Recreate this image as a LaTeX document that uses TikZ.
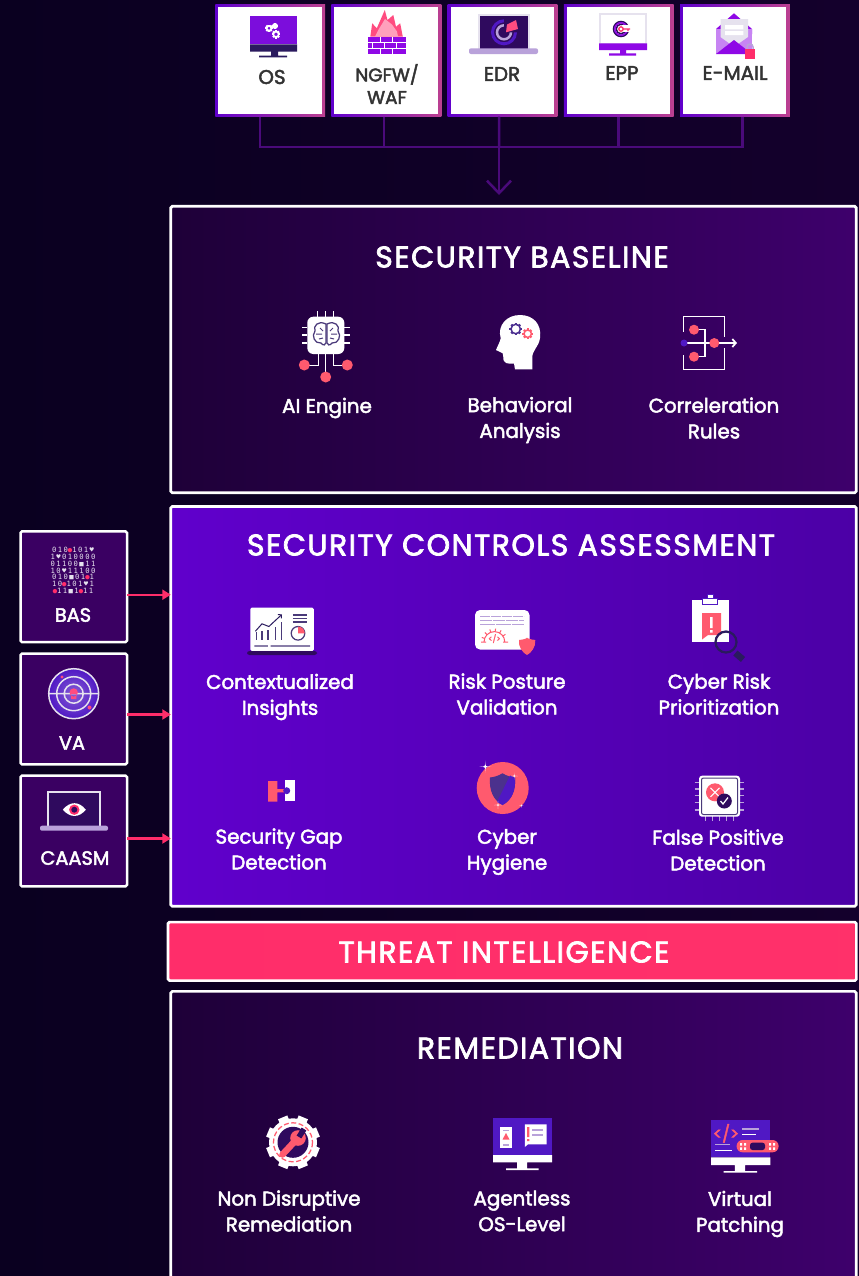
\documentclass[tikz,border=0pt]{standalone}
\usepackage{fontspec}
\setmainfont{Poppins}[FakeBold=2.4]
\newfontfamily\matfont{DejaVu Sans Mono}[LetterSpace=20]
\usetikzlibrary{arrows.meta, positioning, calc}

\definecolor{bgleft}{HTML}{0A0020}
\definecolor{bgright}{HTML}{14002C}
\definecolor{darkleft}{HTML}{1E0038}
\definecolor{darkright}{HTML}{3E006C}
\definecolor{violetleft}{HTML}{6000CC}
\definecolor{violetright}{HTML}{4C00A6}
\definecolor{coral}{HTML}{FF5A6E}
\definecolor{hotpink}{HTML}{FF2D6A}
\definecolor{busline}{HTML}{4A0A7A}
\definecolor{sidefill}{HTML}{3A0062}
\definecolor{ink}{HTML}{2A1A5E}
\definecolor{slate}{HTML}{4A3A7A}
\definecolor{lilac}{HTML}{B9A2DA}
\definecolor{pale}{HTML}{E6E2EE}
\definecolor{grape}{HTML}{8F08E6}
\definecolor{indigo}{HTML}{5018C4}
\definecolor{plum}{HTML}{2F0A5E}
\definecolor{rimpink}{HTML}{BC4090}

\newcommand{\cogwheel}[4]{
  \draw[#4, line width=0.03cm] (#1,#2) circle (#3);
  \foreach \a in {0,45,...,315} \draw[#4, line width=0.045cm] (#1,#2) ++(\a:#3) -- ++(\a:1.6);
}
\newcommand{\sparkle}[3]{
  \fill[white] (#1-#3,#2) .. controls (#1,#2) .. (#1,#2-#3) .. controls (#1,#2) .. (#1+#3,#2)
    .. controls (#1,#2) .. (#1,#2+#3) .. controls (#1,#2) .. cycle;
}
\newcommand{\skl}{\textcolor{hotpink}{●}}

\begin{document}
\begin{tikzpicture}[
    x=0.02cm, y=-0.02cm,
    topbox/.style={minimum width=2.196cm, minimum height=2.25cm, outer sep=0pt, left color=violetleft, right color=rimpink,
      path picture={\fill[white] ([shift={(0.06cm,0.05cm)}]path picture bounding box.south west) rectangle ([shift={(-0.07cm,-0.05cm)}]path picture bounding box.north east);}},
    toplabel/.style={text=black!80, align=center, font=\fontsize{11.3}{12.8}\selectfont},
    panel/.style={draw=white, line width=0.054cm, minimum width=13.71cm, outer sep=0pt, rounded corners=0.03cm},
    darkpanel/.style={panel, left color=darkleft, right color=darkright},
    sidebox/.style={draw=white, line width=0.05cm, fill=sidefill, rounded corners=0.03cm, minimum width=2.13cm, minimum height=2.216cm, outer sep=0pt},
    sidelabel/.style={text=white, font=\fontsize{11}{12}\selectfont},
    heading/.style={text=white, font=\addfontfeature{LetterSpace=5}\fontsize{17}{20}\selectfont},
    label/.style={text=white, align=center, font=\fontsize{11.3}{14.7}\selectfont},
    bus/.style={draw=busline, line width=0.05cm},
    feed/.style={draw=hotpink, line width=0.045cm, -{Triangle[length=0.17cm, width=0.2cm]}},
    thin/.style={line width=0.03cm},
    pinline/.style={white, line width=0.03cm}
]
\useasboundingbox (0,0) rectangle (859,1276);
\clip (0,0) rectangle (859,1276);
\fill[left color=bgleft, right color=bgright] (0,0) rectangle (859,1276);

% source boxes
\node[topbox] (osbox) at (270.2,60.5) {};
\node[topbox, right=0.128cm of osbox] (ngfwbox) {};
\node[topbox, right=0.128cm of ngfwbox] (edrbox) {};
\node[topbox, right=0.128cm of edrbox] (eppbox) {};
\node[topbox, right=0.128cm of eppbox] (mailbox) {};
\node[toplabel] (oslabel) at (272,77) {OS};
\node[toplabel, font=\fontsize{10.5}{12.8}\selectfont] (ngfwlabel) at (387,84) {NGFW/\\WAF};
\node[toplabel] (edrlabel) at (502,74) {EDR};
\node[toplabel] (epplabel) at (622,73) {EPP};
\node[toplabel] (maillabel) at (735,73) {E-MAIL};

% panels
\node[darkpanel, minimum height=5.73cm] (baselinepanel) at (513.5,349.5) {};
\node[panel, left color=violetleft, right color=violetright, minimum height=8cm] (controlspanel) at (513.5,706.35) {};
\node[draw=white, line width=0.054cm, rounded corners=0.03cm, left color=hotpink, right color=hotpink!92!coral, minimum width=13.77cm, minimum height=1.17cm, outer sep=0pt] (threatpanel) at (512.2,951.35) {};
\node[darkpanel, minimum height=6.4cm] (remedypanel) at (513.5,1151.35) {};

\node[heading] (baselinetitle) at (522,257) {SECURITY BASELINE};
\node[heading] (controlstitle) at (511,545) {SECURITY CONTROLS ASSESSMENT};
\node[heading] (threattitle) at (504,952) {THREAT INTELLIGENCE};
\node[heading] (remedytitle) at (520,1048) {REMEDIATION};

% side boxes
\node[sidebox] (basbox) at (73.8,586.7) {};
\node[sidebox] (vabox) at (73.8,709) {};
\node[sidebox] (caasmbox) at (73.8,831) {};
\node[sidelabel] (baslabel) at (73,615) {BAS};
\node[sidelabel] (valabel) at (72,743) {VA};
\node[sidelabel] (caasmlabel) at (75,858) {CAASM};

% connectors
\coordinate (busmid) at (499,147);
\coordinate (bustip) at (499,195);
\draw[bus] ([xshift=-0.2cm]osbox.south) |- (busmid);
\draw[bus] ([xshift=-0.05cm]ngfwbox.south) |- (busmid);
\draw[bus] ([xshift=-0.07cm]edrbox.south) -- (busmid);
\draw[bus] (eppbox.south) |- (busmid);
\draw[bus] ([xshift=0.15cm]mailbox.south) |- (busmid);
\draw[bus, -{Straight Barb[length=0.25cm, width=0.48cm]}] (busmid) -- (bustip);
\draw[feed] ([yshift=-0.16cm]basbox.east) -- ([yshift=-0.16cm]basbox.east -| controlspanel.west);
\draw[feed] ([yshift=-0.11cm]vabox.east) -- ([yshift=-0.11cm]vabox.east -| controlspanel.west);
\draw[feed] ([yshift=-0.15cm]caasmbox.east) -- ([yshift=-0.15cm]caasmbox.east -| controlspanel.west);

% labels
\node[label] (ailabel) at (327,408) {AI Engine};
\node[label] (behavlabel) at (520,420) {Behavioral\\Analysis};
\node[label] (corrlabel) at (714,418) {Correleration\\Rules};
\node[label] (ctxlabel) at (280,697) {Contextualized\\Insights};
\node[label] (risklabel) at (507,694) {Risk Posture\\Validation};
\node[label] (priolabel) at (719,694) {Cyber Risk\\Prioritization};
\node[label] (gaplabel) at (279,849) {Security Gap\\Detection};
\node[label] (hyglabel) at (507,852) {Cyber\\Hygiene};
\node[label] (falselabel) at (718,850) {False Positive\\Detection};
\node[label] (nondislabel) at (289,1211) {Non Disruptive\\Remediation};
\node[label] (agentlabel) at (522,1211) {Agentless\\OS-Level};
\node[label] (patchlabel) at (740,1214) {Virtual\\Patching};

% icon OS
\fill[grape!70!indigo] (250,16) rectangle (297,44.3);
\fill[ink] (250,44.3) rectangle (297,51.7) (271,51.7) rectangle (278,55.7) (259,55.7) rectangle (287,57.3);
\cogwheel{269}{28.3}{2.2}{white}
\cogwheel{276}{34.3}{2.6}{white}
\cogwheel{275}{26}{1.1}{white}

% icon NGFW
\fill[hotpink!85!white] (370.3,36.7) -- (372.2,23.3) -- (376.8,28.3) -- (384.8,10) -- (387.5,20) -- (393.3,15) -- (396,26.7) -- (400.2,23.3) -- (402.8,36.7) -- cycle;
\fill[hotpink!45!white] (375,36.7) -- (378,30.5) -- (385,19) -- (392,24.5) -- (397,31.5) -- (398,36.7) -- cycle;
\fill[grape] (368,36.7) rectangle (406,54);
\draw[white, line width=0.02cm] (368,42.5) -- (406,42.5) (368,48.2) -- (406,48.2);
\draw[white, line width=0.02cm] (380,36.7) -- (380,42.5) (392,36.7) -- (392,42.5) (372,42.5) -- (372,48.2) (384,42.5) -- (384,48.2) (396,42.5) -- (396,48.2) (380,48.2) -- (380,54) (392,48.2) -- (392,54);

% icon EDR
\fill[pale] (477.5,14) rectangle (530,49.3);
\fill[plum] (479.5,15.7) rectangle (528,49);
\fill[lilac, rounded corners=0.04cm] (469,48.3) rectangle (538,54);
\draw[indigo, line width=0.06cm] (504,32.3) circle (11.5);
\draw[lilac, line width=0.05cm] (504,32.3) circle (7);
\fill[plum] (504,32.3) -- (504,17) -- (521,19) -- (520,32.3) -- cycle;
\fill[hotpink!85!white] (506,32.3) -- (507,24.5) -- (516,20) -- (518,29) -- cycle;

% icon EPP
\fill[pale] (599,13.3) rectangle (647,44);
\fill[white] (601,15.3) rectangle (645,43.3);
\fill[grape] (599,43.3) rectangle (647,50) (620,50) rectangle (626,53.3) (609,53.3) rectangle (636,55.7);
\draw[plum, thin] (621,29) circle (7.5) (621,29) circle (4.8);
\draw[grape, thin] (621,29) circle (6.2);
\fill[white] (622,25) rectangle (632,32);
\draw[hotpink, line width=0.025cm] (621,29) circle (2.2) (623,29) -- (630,29) (628,29) -- (628,31);

% icon mail
\fill[grape] (734,13.3) -- (716,29) -- (716,34) -- (752,34) -- (752,29) -- cycle;
\fill[grape!50!white] (716,29) rectangle (752,54);
\fill[pale] (720.5,19) -- (748,19) -- (748,37) -- (734,46.7) -- (720.5,37) -- cycle;
\fill[white] (725,25) rectangle (743.4,29.3) (725,31) rectangle (743.4,35);
\fill[grape] (716,54) -- (734,40) -- (752,54) -- cycle;
\draw[lilac, line width=0.03cm] (747,49.3) -- (747,47) arc (180:360:3) -- (753,49.3);
\fill[hotpink] (745,49.3) rectangle (755,59);

% icon BAS
\foreach \row [count=\i] in {010\skl101♥, 1♥010000, 01100■11, 10♥11100, 010■01\skl1, 10\skl101♥1, \skl11■1\skl11}
  \node[text=pale, inner sep=0pt, font=\matfont\fontsize{4.1}{6}\selectfont] (matrow\i) at (73,{550+6.8*(\i-1)}) {\row};

% icon VA
\shade[inner color=indigo!70!white, outer color=indigo] (73.7,693.7) circle (25);
\draw[pale, thin] (73.7,693.7) circle (25) (73.7,693.7) circle (17) (73.7,693.7) circle (9.5) (48.7,693.7) -- (98.7,693.7);
\fill[hotpink!85!white] (73.7,692.5) circle (4.2) (71,694) rectangle (76.4,699) (62,677) circle (1.7) (89.5,707.5) circle (2);

% icon CAASM
\fill[plum] (48,791.7) rectangle (100,826);
\draw[pale, line width=0.035cm] (48,826) -- (48,791.7) -- (100,791.7) -- (100,826);
\fill[lilac, rounded corners=0.04cm] (40,825.7) rectangle (108,830.7);
\fill[white] (62.8,809.7) .. controls (70,801) and (79,801) .. (85.8,809.7) .. controls (79,818) and (70,818) .. cycle;
\fill[hotpink] (74.3,809.7) circle (5.2);
\fill[plum] (74.3,809.7) circle (3);

% icon AI engine
\fill[white, rounded corners=0.12cm] (307.3,316.7) rectangle (344.3,354);
\draw[pinline] (317.7,311.3) -- (317.7,316.7) (325.7,311.3) -- (325.7,316.7) (333.3,311.3) -- (333.3,316.7);
\draw[pinline] (302,327.3) -- (307.3,327.3) (302,335) -- (307.3,335) (302,343) -- (307.3,343);
\draw[pinline] (344.3,327.3) -- (350,327.3) (344.3,335) -- (350,335) (344.3,343) -- (350,343);
\draw[pinline] (318.3,354) -- (318.3,365.5) -- (304.3,365.5) (325.7,354) -- (325.7,377) (333.3,354) -- (333.3,365.5) -- (347.3,365.5);
\fill[coral] (304.3,365) circle (5.5) (325.7,377) circle (5.5) (347.3,365) circle (5.5);
\draw[slate, line width=0.025cm] (326,324) .. controls (318,320) and (313,326) .. (315,331) .. controls (311,336) and (315,344) .. (321,343) .. controls (323,346) and (326,345) .. (326,343) -- cycle;
\draw[slate, line width=0.025cm] (327,324) .. controls (335,320) and (340,326) .. (338,331) .. controls (342,336) and (338,344) .. (332,343) .. controls (330,346) and (327,345) .. (327,343) -- cycle;
\draw[slate, line width=0.02cm] (316,334) -- (322,334) (320,328) -- (323,331) (337,334) -- (331,334) (333,328) -- (330,331) (319,339) -- (323,338) (334,339) -- (330,338);

% icon behavioral
\fill[white] (515,369.3) -- (514,363.5) .. controls (508,364) and (503,364) .. (503.3,357) -- (502.7,353.3) -- (496,350) .. controls (498,345) and (500,342) .. (500.7,338.3)
  .. controls (497,325) and (507,315) .. (520,315) .. controls (533,315) and (542,324) .. (540,338) .. controls (539,347) and (532,350) .. (532.3,358) -- (532.3,369.3) -- cycle;
\cogwheel{515.7}{329}{4.7}{slate!70!indigo}
\cogwheel{527.7}{333.7}{3.7}{coral}

% icon correleration
\draw[white, line width=0.025cm] (683.3,331.7) -- (683.3,316.7) -- (724.3,316.7) -- (724.3,337.3);
\draw[white, line width=0.025cm] (683.3,355) -- (683.3,369.3) -- (724.3,369.3) -- (724.3,348.3);
\draw[white, line width=0.025cm] (694,329.7) -- (705,329.7) -- (705,356.7) -- (694,356.7);
\draw[white, line width=0.035cm, -{Straight Barb[length=0.07cm, width=0.16cm]}] (684,343) -- (737,343);
\fill[coral] (694,329.7) circle (5) (694,356.7) circle (5) (714.3,343) circle (5);
\fill[indigo] (684,343) circle (3.5);

% icon contextualized
\fill[white, rounded corners=0.03cm] (250.3,607.6) rectangle (313.8,651);
\fill[plum, rounded corners=0.05cm] (247,651) rectangle (317,655);
\draw[slate, line width=0.025cm] (256.4,639.7) -- (256.4,632) (262,639.7) -- (262,630.6) (268,639.7) -- (268,630) (275.3,639.7) -- (275.3,626.5) (281.7,639.7) -- (281.7,622);
\draw[ink, line width=0.02cm, -{Straight Barb[length=0.05cm, width=0.1cm]}] (255.4,631.2) -- (262,623.8) -- (268.9,626.5) -- (282,614.3);
\draw[slate, line width=0.025cm] (292.9,615) -- (307,615) (292.9,618.4) -- (307,618.4) (292.9,622) -- (307,622);
\draw[slate, line width=0.025cm] (298,633.3) circle (6.8) (254.3,646) -- (267.9,646) (270.6,646) -- (310,646);
\fill[coral] (298,633.3) -- (298,626.5) arc (-90:0:6.8) -- cycle;

% icon risk posture
\fill[white, rounded corners=0.1cm] (475,610) rectangle (529.5,649.5);
\draw[lilac, line width=0.035cm, dash pattern=on 0.2cm off 0.02cm] (480,616.4) -- (524,616.4);
\draw[lilac, line width=0.035cm, dash pattern=on 0.24cm off 0.02cm] (480,620.4) -- (524,620.4);
\draw[lilac, line width=0.035cm, dash pattern=on 0.3cm off 0.02cm] (480,624.4) -- (524,624.4);
\draw[coral, line width=0.02cm] (484,642) arc (180:360:10.4) (481,642) -- (486,642) (503,642) -- (508,642);
\foreach \a in {200,225,...,340} \draw[coral, line width=0.02cm] (494.4,642) ++(\a:10.4) -- ++(\a:3);
\node[text=coral, font=\fontsize{4.5}{5}\selectfont, inner sep=0pt] (codetext) at (494.4,638.5) {</>};
\fill[coral] (519,640) .. controls (524,639.5) and (527,638.5) .. (527,637.5) .. controls (527,638.5) and (531,639.5) .. (535.3,640) .. controls (536,647) and (531,653) .. (527,655) .. controls (523,653) and (518,647) .. cycle;

% icon prioritization
\fill[white] (692,599.5) rectangle (728.6,642);
\fill[white, draw=indigo, line width=0.015cm] (702.6,598) rectangle (717.5,604) (707,594) rectangle (713,598);
\fill[coral] (702,613) rectangle (721,635) (702,635) -- (708,635) -- (702,639.5) -- cycle;
\fill[white] (710,617) rectangle (712.6,628) (710,630) rectangle (712.6,632.6);
\draw[ink, line width=0.045cm] (726,642) circle (10.5);
\draw[ink, line width=0.13cm] (735.4,653) -- (743,659.5);

% icon gap
\fill[coral] (268,781) rectangle (277.3,801.7) (277,789) rectangle (284,792.4);
\fill[white] (285,780) rectangle (295,800.7);
\fill[indigo] (286.7,790.7) circle (3.5);

% icon hygiene
\fill[coral] (502.7,788) circle (26);
\fill[slate!75!indigo] (502.5,773.3) .. controls (507,776) and (511,777) .. (515,777.5) .. controls (516,790) and (512,800) .. (502.5,805) .. controls (493,800) and (489,790) .. (490,777.5) .. controls (494,777) and (498,776) .. cycle;
\fill[indigo] (510,775.5) .. controls (512,776.5) and (514,777) .. (515,777.5) .. controls (516,790) and (512,800) .. (502.5,805) -- (497,802) -- cycle;
\sparkle{485.3}{766.7}{6}
\sparkle{514.3}{776}{3.5}
\sparkle{498}{805}{4}
\sparkle{521.3}{805.7}{2}

% icon false positive
\foreach \p in {782.3,789,795.7,802.3,810} \draw[lilac, thin] (694.7,\p) -- (744.3,\p);
\foreach \p in {705.7,712.7,719.7,726.7,733.3} \draw[lilac, thin] (\p,812) -- (\p,821);
\fill[white, rounded corners=0.06cm] (699,775.7) rectangle (740,816.7);
\draw[slate, line width=0.02cm, rounded corners=0.04cm] (701.5,778) rectangle (737.5,814.5);
\fill[coral] (715,792.3) circle (9);
\draw[white, line width=0.02cm] (710.5,787.8) -- (719.5,796.8) (710.5,796.8) -- (719.5,787.8);
\fill[plum] (724.3,801) circle (7.5);
\draw[white, line width=0.025cm] (720.5,801) -- (723,804) -- (728,797.5);

% icon non disruptive
\foreach \a in {22.5,67.5,...,337.5} \draw[white, line width=0.2cm] (293,1142.3) ++(\a:20) -- ++(\a:7);
\fill[white] (293,1142.3) circle (24);
\draw[coral, line width=0.025cm, dash pattern=on 0.1cm off 0.05cm] (293,1142.3) circle (19.5);
\fill[plum] (293,1142.3) circle (15.5);
\draw[coral, line width=0.13cm, line cap=round] (282.5,1154.5) -- (296,1140);
\fill[coral] (298,1138) circle (7.8);
\draw[plum, line width=0.11cm] (299,1137) -- (304,1129);

% icon agentless
\fill[indigo] (493,1118.3) rectangle (552,1155);
\fill[white] (493,1155) rectangle (552,1162.3) (517,1162.3) rectangle (527,1168.3) (506,1168.3) rectangle (538.6,1170);
\fill[white] (500.3,1127.3) rectangle (511.7,1148.3);
\fill[coral] (506,1133) -- (509.5,1139.5) -- (502.5,1139.5) -- cycle;
\draw[lilac, thin] (503,1130.5) -- (509,1130.5) (503,1145) -- (509,1145);
\fill[white] (524.8,1124.3) rectangle (546.5,1144.3) (524.8,1144.3) -- (528,1144.3) -- (524.8,1147) -- cycle;
\fill[coral] (527.2,1127) rectangle (529.4,1137) (527.2,1139) rectangle (529.4,1141);
\draw[lilac, thin] (532,1130) -- (543,1130) (532,1135) -- (543,1135);

% icon virtual patching
\fill[indigo] (711,1120) rectangle (770.3,1157.3);
\fill[white] (711,1157.3) rectangle (770.3,1165) (734.8,1165) rectangle (745.2,1171) (723.5,1171) rectangle (757,1172.7);
\node[text=coral, font=\fontsize{9.5}{10}\selectfont, inner sep=0pt] (patchcode) at (726,1133.3) {</>};
\draw[lilac, thin] (742.4,1129) -- (758.6,1129) (715,1144.7) -- (729.7,1144.7);
\draw[white, thin] (742.4,1134.3) -- (756,1134.3) (715,1150.3) -- (732,1150.3);
\fill[coral, rounded corners=0.12cm] (736.6,1140) rectangle (778.6,1152.3);
\fill[plum, rounded corners=0.05cm] (750,1142.7) rectangle (765,1150);
\foreach \p in {741,745,770,774} \fill[white] (\p-1,1143) rectangle (\p+1,1145.5) (\p-1,1147.3) rectangle (\p+1,1149.8);
\end{tikzpicture}
\end{document}
